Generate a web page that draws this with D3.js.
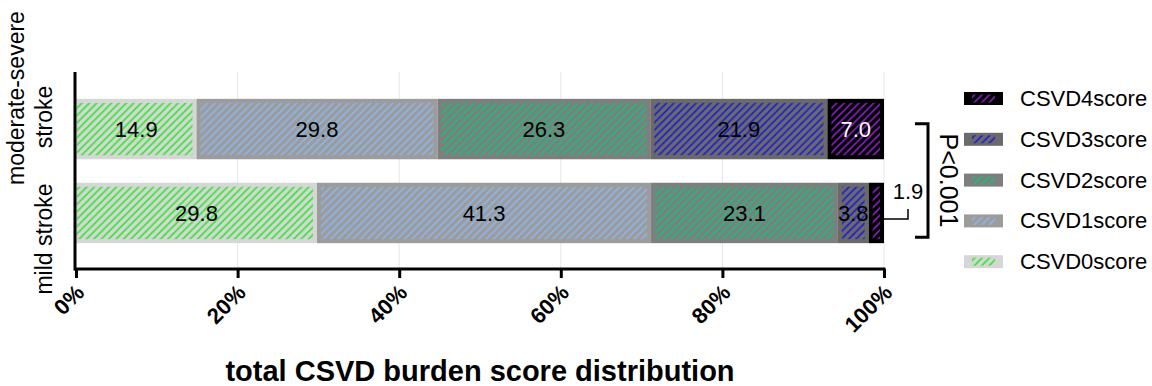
<!DOCTYPE html>
<html>
<head>
<meta charset="utf-8">
<script src="https://cdn.jsdelivr.net/npm/d3@7"></script>
<style>
    body { margin: 0; background: #fff; }
    svg { display: block; font-family: 'Liberation Sans', Arial, sans-serif; }
</style>
</head>
<body>
<div id="chart"></div>
<script>
// ---- data ----
const categories = ['moderate-severe stroke', 'mild stroke'];
const seriesNames = ['CSVD0score', 'CSVD1score', 'CSVD2score', 'CSVD3score', 'CSVD4score'];
const moderateSevere = [14.9, 29.8, 26.3, 21.9, 7.0];
const mildStroke = [29.8, 41.3, 23.1, 3.8, 1.9];
const xTicks = [0, 0.2, 0.4, 0.6, 0.8, 1];
const pLabel = 'P<0.001';
const xTitle = 'total CSVD burden score distribution';

// ---- styles ----
const fillColors = ['#d6d6d6', '#9c9c9c', '#7e7e7e', '#6a6a6a', '#000000'];
const hatchColors = ['#2ee82e', '#8cb6ee', '#14c07c', '#1c1cd8', '#8e1fc8'];
const labelColors = ['#000', '#000', '#000', '#000', '#fff'];

class BurdenChart {
    constructor(parentElement) {
        this.parentElement = parentElement;
        this.config = {
            width: 1152, height: 386,
            x0: 76, x1: 884,
            y0: 72, y1: 270,
            hatch: 7.4
        };
        this.initVis();
    }

    initVis() {
        let vis = this;
        const c = vis.config;

        vis.svg = d3.select('#' + vis.parentElement).append('svg')
            .attr('width', c.width)
            .attr('height', c.height);

        // hatch patterns, one per series
        const defs = vis.svg.append('defs');
        const h = c.hatch;
        seriesNames.forEach((s, i) => {
            const p = defs.append('pattern')
                .attr('id', 'hatch' + i)
                .attr('patternUnits', 'userSpaceOnUse')
                .attr('width', h).attr('height', h);
            p.append('rect').attr('width', h).attr('height', h).attr('fill', fillColors[i]);
            p.append('path')
                .attr('d', `M-1,1 l2,-2 M0,${h} l${h},-${h} M${h - 1},${h + 1} l2,-2`)
                .attr('stroke', hatchColors[i])
                .attr('stroke-width', 1.6);
        });

        vis.xScale = d3.scaleLinear().domain([0, 1]).range([c.x0, c.x1]);
        vis.yScale = d3.scaleBand().domain(categories)
            .range([c.y0, c.y1])
            .paddingInner(0.28)
            .paddingOuter(0.32);

        vis.gridG = vis.svg.append('g');
        vis.barsG = vis.svg.append('g');
        vis.axisG = vis.svg.append('g');

        vis.wrangleData();
    }

    wrangleData() {
        let vis = this;
        const rows = categories.map((cat, ci) => {
            const vals = ci === 0 ? moderateSevere : mildStroke;
            const row = { category: cat };
            seriesNames.forEach((s, i) => row[s] = vals[i]);
            return row;
        });
        vis.stacked = d3.stack().keys(seriesNames).offset(d3.stackOffsetExpand)(rows);
        vis.updateVis();
    }

    updateVis() {
        let vis = this;
        const c = vis.config;
        const bw = vis.yScale.bandwidth();
        const inset = 4;

        // grid lines
        vis.gridG.selectAll('line')
            .data(xTicks.slice(1))
            .join('line')
            .attr('x1', d => vis.xScale(d)).attr('x2', d => vis.xScale(d))
            .attr('y1', c.y0).attr('y2', c.y1)
            .attr('stroke', '#e6e6e6').attr('stroke-width', 1);

        const layers = vis.barsG.selectAll('g.layer')
            .data(vis.stacked)
            .join('g').attr('class', 'layer');

        // solid fill
        layers.selectAll('rect.fill')
            .data(d => d.map(v => ({ v, key: d.key })))
            .join('rect').attr('class', 'fill')
            .attr('x', d => vis.xScale(d.v[0]))
            .attr('y', d => vis.yScale(d.v.data.category))
            .attr('width', d => vis.xScale(d.v[1]) - vis.xScale(d.v[0]))
            .attr('height', bw)
            .attr('fill', d => fillColors[seriesNames.indexOf(d.key)]);

        // hatched inner area
        layers.selectAll('rect.hatch')
            .data(d => d.map(v => ({ v, key: d.key })))
            .join('rect').attr('class', 'hatch')
            .attr('x', d => vis.xScale(d.v[0]) + (d.v[0] === 0 ? 1 : inset))
            .attr('y', d => vis.yScale(d.v.data.category) + inset)
            .attr('width', d => Math.max(0, vis.xScale(d.v[1]) - vis.xScale(d.v[0]) - inset - (d.v[0] === 0 ? 1 : inset)))
            .attr('height', bw - 2 * inset)
            .attr('fill', d => 'url(#hatch' + seriesNames.indexOf(d.key) + ')');

        // value labels
        const labels = [];
        vis.stacked.forEach((layer, si) => {
            layer.forEach(v => {
                const val = v.data[layer.key];
                labels.push({
                    text: val.toFixed(1),
                    x: (vis.xScale(v[0]) + vis.xScale(v[1])) / 2,
                    y: vis.yScale(v.data.category) + bw / 2,
                    xEnd: vis.xScale(v[1]),
                    si, outside: val < 3
                });
            });
        });

        vis.barsG.selectAll('text.val')
            .data(labels.filter(d => !d.outside))
            .join('text').attr('class', 'val')
            .attr('x', d => d.x).attr('y', d => d.y)
            .attr('dy', '0.36em')
            .attr('text-anchor', 'middle')
            .style('font-size', '22px')
            .attr('fill', d => labelColors[d.si])
            .text(d => d.text);

        // small segment: label outside with a leader
        labels.filter(d => d.outside).forEach(d => {
            const lx = d.xEnd + 24;
            vis.barsG.append('path')
                .attr('d', `M${d.xEnd},${d.y + 6}H${lx}V${d.y - 4}`)
                .attr('fill', 'none').attr('stroke', '#000').attr('stroke-width', 1.5);
            vis.barsG.append('text')
                .attr('x', lx).attr('y', d.y - 14)
                .attr('text-anchor', 'middle')
                .style('font-size', '22px')
                .text(d.text);
        });

        vis.renderVis();
    }

    renderVis() {
        let vis = this;
        const c = vis.config;

        // x axis
        const xAxis = d3.axisBottom(vis.xScale)
            .tickValues(xTicks)
            .tickSize(9)
            .tickFormat(d3.format('.0%'));
        const xg = vis.axisG.append('g')
            .attr('transform', `translate(0,${c.y1 - 1})`)
            .call(xAxis);
        xg.select('.domain').attr('stroke', '#000').attr('stroke-width', 3)
            .attr('d', `M${c.x0 - 1.5},0H${c.x1 + 1.5}`);
        xg.selectAll('.tick line').attr('stroke', '#000').attr('stroke-width', 3);
        xg.selectAll('.tick text')
            .attr('x', 0).attr('y', 0).attr('dy', 0)
            .attr('text-anchor', 'end')
            .attr('transform', 'translate(9,25) rotate(-45)')
            .style('font-size', '22px')
            .style('font-weight', 'bold')
            .style('font-family', "'Liberation Sans', Arial, sans-serif")
            .attr('fill', '#000');

        // y axis line
        vis.axisG.append('line')
            .attr('x1', c.x0 - 1).attr('x2', c.x0 - 1)
            .attr('y1', c.y0).attr('y2', c.y1 + 0.5)
            .attr('stroke', '#000').attr('stroke-width', 3);

        // category labels
        const bw = vis.yScale.bandwidth();
        const topMid = vis.yScale(categories[0]) + bw / 2;
        const lines0 = ['moderate-severe', 'stroke'];
        lines0.forEach((t, i) => {
            vis.axisG.append('text')
                .attr('transform', `translate(${24 + i * 28},${topMid - 31 + i * 19}) rotate(-90)`)
                .attr('text-anchor', 'middle')
                .style('font-size', '23px')
                .text(t);
        });
        vis.axisG.append('text')
            .attr('transform', `translate(52,${vis.yScale(categories[1]) + bw / 2 + 26}) rotate(-90)`)
            .attr('text-anchor', 'middle')
            .style('font-size', '23px')
            .text(categories[1]);

        // x title
        vis.svg.append('text')
            .attr('x', (c.x0 + c.x1) / 2).attr('y', 381)
            .attr('text-anchor', 'middle')
            .style('font-size', '29px')
            .style('font-weight', 'bold')
            .text(xTitle);

        // significance bracket
        const bTop = vis.yScale(categories[0]) + 25;
        const bBot = vis.yScale(categories[1]) + bw - 6;
        vis.svg.append('path')
            .attr('d', `M915,${bTop}H928V${bBot}H915`)
            .attr('fill', 'none').attr('stroke', '#000').attr('stroke-width', 3);
        vis.svg.append('text')
            .attr('transform', `translate(940,${(bTop + bBot) / 2}) rotate(90)`)
            .attr('text-anchor', 'middle')
            .style('font-size', '25px')
            .text(pLabel);

        // legend (top row = last series)
        const legend = vis.svg.append('g').attr('transform', 'translate(964,98)');
        const order = seriesNames.map((s, i) => i).reverse();
        order.forEach((si, r) => {
            const g = legend.append('g').attr('transform', `translate(0,${r * 40.8})`);
            g.append('rect')
                .attr('x', 0).attr('y', -6).attr('width', 39).attr('height', 13)
                .attr('fill', fillColors[si]);
            g.append('rect')
                .attr('x', 8).attr('y', -3.5).attr('width', 23).attr('height', 8)
                .attr('fill', `url(#hatch${si})`);
            g.append('text')
                .attr('x', 56).attr('y', 0).attr('dy', '0.36em')
                .style('font-size', '22px')
                .text(seriesNames[si]);
        });
    }
}

new BurdenChart('chart');
</script>
</body>
</html>
